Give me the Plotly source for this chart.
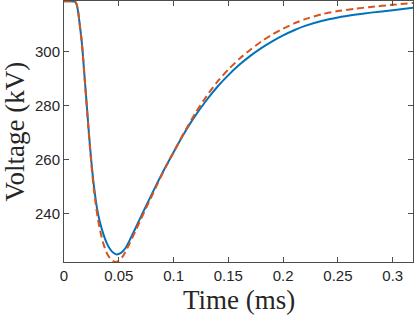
import plotly.graph_objects as go

# Time (ms)
t_blue = [0.0, 0.010, 0.0115, 0.013, 0.0145, 0.016, 0.017, 0.019, 0.021, 0.023, 0.025, 0.027,
          0.029, 0.031, 0.033, 0.036, 0.039, 0.042, 0.045, 0.048, 0.052, 0.056, 0.060, 0.065,
          0.070, 0.075, 0.080, 0.085, 0.090, 0.095, 0.100, 0.105, 0.110, 0.118, 0.130, 0.140,
          0.150, 0.160, 0.170, 0.180, 0.190, 0.200, 0.210, 0.220, 0.235, 0.250, 0.265, 0.280,
          0.300, 0.3185]
v_blue = [318.6, 318.5, 317.5, 314.5, 309.5, 304.5, 300.0, 289.5, 279.0, 268.5, 259.2, 251.3,
          245.0, 240.2, 236.6, 232.4, 229.2, 227.0, 225.6, 225.0, 225.6, 227.3, 230.3, 234.5,
          238.8, 243.0, 247.2, 251.3, 255.3, 259.1, 262.8, 266.5, 270.0, 275.2, 282.0, 287.0,
          291.3, 295.1, 298.4, 301.3, 303.8, 306.0, 307.9, 309.5, 311.3, 312.6, 313.6, 314.4,
          315.3, 316.2]

t_orange = [0.0, 0.010, 0.0115, 0.013, 0.0145, 0.016, 0.017, 0.019, 0.021, 0.023, 0.025, 0.027,
            0.029, 0.031, 0.033, 0.036, 0.039, 0.042, 0.045, 0.047, 0.050, 0.053, 0.056, 0.060,
            0.065, 0.070, 0.075, 0.080, 0.085, 0.090, 0.095, 0.100, 0.105, 0.110, 0.120, 0.130,
            0.140, 0.150, 0.160, 0.170, 0.180, 0.190, 0.200, 0.210, 0.220, 0.235, 0.250, 0.265,
            0.280, 0.300, 0.3185]
v_orange = [318.6, 318.5, 317.5, 314.5, 309.5, 304.3, 299.8, 289.0, 278.5, 268.0, 258.3, 250.0,
            243.4, 238.0, 233.7, 228.9, 225.6, 223.5, 222.5, 222.2, 222.6, 223.9, 225.9, 229.2,
            233.5, 237.9, 242.2, 246.5, 250.8, 255.0, 259.0, 262.8, 266.6, 270.3, 277.3, 283.5,
            288.9, 293.4, 297.3, 300.7, 303.7, 306.3, 308.5, 310.4, 312.0, 313.8, 315.0, 315.8,
            316.5, 317.3, 318.0]

x_ticks = [0, 0.05, 0.1, 0.15, 0.2, 0.25, 0.3]
x_tick_labels = ["0", "0.05", "0.1", "0.15", "0.2", "0.25", "0.3"]
y_ticks = [240, 260, 280, 300]
y_tick_labels = ["240", "260", "280", "300"]

fig = go.Figure()
fig.add_trace(go.Scatter(x=t_blue, y=v_blue, mode="lines",
                         line=dict(color="#0072BD", width=2, shape="spline", smoothing=0.5),
                         showlegend=False))
fig.add_trace(go.Scatter(x=t_orange, y=v_orange, mode="lines",
                         line=dict(color="#D95319", width=2, dash="7px,4px", shape="spline", smoothing=0.5),
                         showlegend=False))

axis_common = dict(showline=True, linecolor="#4d4d4d", linewidth=1, mirror="ticks", ticks="inside",
                   ticklen=5, tickcolor="#4d4d4d", showgrid=False, zeroline=False, automargin=False,
                   tickfont=dict(family="Liberation Sans, Arial", size=15, color="#262626"))

title_font = dict(family="Liberation Serif, Times New Roman", size=27, color="#262626")

fig.update_layout(
    width=415, height=318,
    margin=dict(l=64, r=2, t=1, b=56),
    paper_bgcolor="white", plot_bgcolor="white",
    xaxis=dict(range=[0, 0.3185], tickvals=x_ticks, ticktext=x_tick_labels, **axis_common),
    yaxis=dict(range=[222.2, 318.7], tickvals=y_ticks, ticktext=y_tick_labels, **axis_common),
    annotations=[
        dict(text="Time (ms)", xref="paper", yref="paper", x=0.5, y=-0.146,
             xanchor="center", yanchor="middle", showarrow=False, font=title_font),
        dict(text="Voltage (kV)", xref="paper", yref="paper", x=-0.143, y=0.5, textangle=-90,
             xanchor="center", yanchor="middle", showarrow=False, font=title_font),
    ],
)

fig.write_html("out.html", config={"displayModeBar": False},
               post_script="document.body.style.margin='0';document.body.style.overflow='hidden';")
